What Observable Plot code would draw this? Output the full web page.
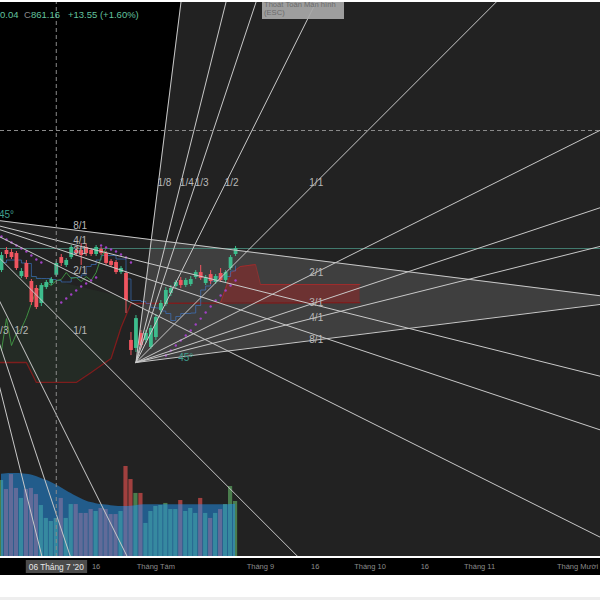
<!DOCTYPE html>
<html>
<head>
<meta charset="utf-8">
<script src="https://cdn.jsdelivr.net/npm/d3@7"></script>
<script src="https://cdn.jsdelivr.net/npm/@observablehq/plot@0.6"></script>
<style>
html,body{margin:0;padding:0;background:#fff;}
#wrap{position:relative;width:600px;height:600px;overflow:hidden;background:#fff;font-family:"Liberation Sans",Arial,sans-serif;}
.layer{position:absolute;left:0;width:600px;overflow:hidden;}
.layer svg{display:block;}
#topline{position:absolute;left:0;top:0;width:600px;height:2px;background:#fff;z-index:10;}
#footer{position:absolute;left:0;top:575px;width:600px;height:25px;background:#fff;}
#footer .strip{position:absolute;left:0;bottom:0;width:600px;height:3px;background:#eeeeee;}
#legend{position:absolute;top:9px;left:0;width:300px;height:14px;font-size:9.5px;line-height:12px;color:#62c29e;white-space:nowrap;z-index:5;}
#legend span{position:absolute;top:0;}
#tip{position:absolute;left:262px;top:0;width:82px;height:19px;background:rgba(168,168,168,0.93);color:#6b6b6b;font-size:7.6px;line-height:8.4px;z-index:6;}
#tip div{padding-left:2px;white-space:nowrap;}
</style>
</head>
<body>
<div id="wrap"></div>
<script>
// ---------- data (VN-Index daily candles, 19 Jun – 25 Aug 2020) ----------
const opens  = [855.2,872.2,870.5,869.6,850.1,861.2,845.9,840.0,827.3,840.8,844.2,851.2,866.2,859.5,866.2,872.2,872.2,874.7,872.2,868.8,873.0,869.6,862.9,862.0,853.5,852.7,796.0,789.2,801.9,796.0,790.0,798.5,821.3,826.4,835.8,841.7,846.8,842.5,843.4,849.3,853.5,844.2,851.8,845.1,852.7,846.8,856.9,868.8];
const highs  = [870.5,874.7,873.0,871.3,856.9,863.7,847.6,842.5,844.2,846.8,849.3,862.9,868.8,865.4,876.4,874.7,878.1,877.3,873.9,876.4,874.7,871.3,864.5,863.7,858.6,854.4,802.7,817.1,804.4,804.4,808.6,817.9,829.8,840.8,842.5,846.8,849.3,848.5,850.1,855.2,859.5,851.0,855.2,851.8,856.9,855.2,867.9,875.6];
const lows   = [853.5,865.4,864.5,855.2,848.5,847.6,825.6,822.2,824.7,839.1,842.5,850.04,858.6,857.8,864.5,867.1,859.5,867.1,867.1,867.1,867.9,859.5,857.8,851.8,851.8,818.8,783.2,785.8,789.2,793.4,788.3,796.0,817.9,824.7,833.2,840.0,840.0,840.8,841.7,847.6,846.8,842.5,843.4,843.4,845.1,845.1,855.2,867.1];
const closes = [867.9,868.8,866.2,856.9,854.4,849.3,828.1,823.9,842.5,845.1,847.61,861.16,861.2,863.7,874.7,869.6,867.9,869.6,868.8,874.7,869.6,861.2,859.5,853.5,856.9,829.8,787.5,814.5,791.7,801.9,806.1,815.4,827.3,838.3,840.0,845.1,842.5,846.8,847.6,853.5,848.5,849.3,845.9,850.1,846.8,853.5,866.2,873.87];
const volumes = [547,482,590,490,418,482,490,446,367,274,252,274,418,274,374,374,310,310,338,324,346,338,302,302,324,648,554,454,454,238,324,360,367,382,338,338,403,324,346,310,418,310,274,310,338,374,504,396];
const volumeMA = [592,596,598,598,596,592,586,576,562,548,532,514,494,474,454,434,416,400,388,380,374,370,366,362,360,360,362,366,370,372,372,372,372,372,372,372,372,372,372,372,372,372,372,372,372,372,374,376];

// Ichimoku (read) and Parabolic SAR (read)
const spanBIdx = [-1,5,6,7,15,18,22,24,25,26,72];
const spanBVal = [777.3,777.3,768.9,760.4,760.4,768.9,780.7,806.9,817.1,827.3,828.1];
const greenTop = [859,852,851,850,842,839,835,832,830.5,828.5];   // over spanBIdx[0..9]
const redIdx = [44,45,46,48,51,52,72];
const redTop = [828.1,840.0,852.7,858.6,860.3,843.4,843.4];
const redBottom = [828.1,828.1,828.1,828.1,828.1,828.1,828.1];
const sarIdx = [0,1,2,3,4,5,6,7,8,12,13,14,15,16,17,18,19,20,21,22,23,24,25,26,33,34,35,36,37,38,39,40,41,42,43,44,45,46,47];
const sarVal = [884.0,881.5,878.9,876.4,873.9,871.3,867.9,864.5,862.0,828.1,831.5,834.9,838.3,841.7,844.2,846.8,849.3,876.4,874.7,873.0,871.3,868.8,866.2,862.0,783.2,787.5,791.7,796.0,800.2,804.4,809.5,814.5,819.6,824.7,829.8,834.0,838.3,842.5,846.8];

// Gann fans: anchor bar index and price, direction, box size (bars), price per bar at 1/1
const fanIdx = [-9, 27];
const fanPrice = [902, 777.3];
const fanDir = [-1, 1];
const fanBox = [24, 36];
const fanScale = 4.22;
const ratios = [1/8, 1/4, 1/3, 1/2, 1, 2, 3, 4, 8];
const ratioLabels = ["8/1","4/1","3/1","2/1","1/1","1/2","1/3","1/4","1/8"];

// crosshair
const crossIdx = 11;
const crossPrice = 973.8;

// x-axis ticks (trading-day index)
const tickIdx = [11,19,31,52,63,74,85,96,117];
const tickLabels = ["06 Tháng 7 '20","16","Tháng Tám","Tháng 9","16","Tháng 10","16","Tháng 11","Tháng Mười Hai"];

// ---------- build ----------
const UP = "#3dbd8d", DN = "#f05560";
const xDomain = [-0.2, 120.28];
const yDomain = [613, 1083.92];
const candles = opens.map((o, i) => ({i, o, h: highs[i], l: lows[i], c: closes[i], v: volumes[i], ma: volumeMA[i], up: closes[i] >= o}));
const ups = candles.filter(d => d.up), dns = candles.filter(d => !d.up);

const tenkan = candles.map((d, i) => {
  const w = candles.slice(Math.max(0, i - 8), i + 1);
  return {i, p: (d3.max(w, e => e.h) + d3.min(w, e => e.l)) / 2};
});
const chikou = closes.slice(26).map((c, k) => ({i: k, p: c}));
const spanB = spanBIdx.map((i, k) => ({i, p: spanBVal[k]}));
const greenCloud = greenTop.map((t, k) => ({i: spanBIdx[k], a: t, b: spanBVal[k]}));
const redCloud = redIdx.map((i, k) => ({i, a: redTop[k], b: redBottom[k]}));
const sar = sarIdx.map((i, k) => ({i, p: sarVal[k]}));

const REACH = 400;
const wedges = [], fanLines = [], fanLabels = [];
fanIdx.forEach((i0, f) => {
  const p0 = fanPrice[f], dir = fanDir[f], N = fanBox[f];
  wedges.push({f, i: i0, a: p0, b: p0});
  wedges.push({f, i: i0 + REACH, a: p0 + dir * fanScale * ratios[0] * REACH, b: p0 + dir * fanScale * ratios[ratios.length - 1] * REACH});
  ratios.forEach((k, j) => {
    const key = f + "-" + j;
    fanLines.push({key, i: i0, p: p0});
    fanLines.push({key, i: i0 + REACH, p: p0 + dir * fanScale * k * REACH});
    const flat = k <= 1;
    const li = flat ? i0 + N : i0 + N / k;
    if (li < -1.5) return;              // label lies off the left edge
    fanLabels.push({f, flat, t: ratioLabels[j], i: li,
      p: flat ? p0 + dir * fanScale * k * N : p0 + dir * fanScale * N});
  });
});
const deg = fanIdx.map((i0, f) => ({f, i: i0 + 10, p: fanPrice[f]}));

const FONT = "Liberation Sans, Arial, sans-serif";
function frame(h, bg, marks, y) {
  return Plot.plot({
    width: 600, height: h, margin: 0,
    x: {domain: xDomain, axis: null},
    y: y ?? {domain: yDomain, axis: null},
    style: {background: bg, fontFamily: FONT, overflow: "hidden"},
    marks
  });
}

const mainSvg = frame(556, "#000", [
  Plot.areaY(wedges.filter(d => d.f === 0), {x: "i", y1: "a", y2: "b", fill: "#fff", fillOpacity: 0.135, clip: true}),
  Plot.areaY(wedges.filter(d => d.f === 1), {x: "i", y1: "a", y2: "b", fill: "#fff", fillOpacity: 0.135, clip: true}),
  Plot.areaY(greenCloud, {x: "i", y1: "a", y2: "b", fill: "#4caf50", fillOpacity: 0.07, clip: true}),
  Plot.areaY(redCloud, {x: "i", y1: "a", y2: "b", fill: "#b71c1c", fillOpacity: 0.38, clip: true}),
  Plot.line(redCloud, {x: "i", y: "a", stroke: "#c62828", strokeOpacity: 0.55, strokeWidth: 1, clip: true}),
  Plot.line(spanB, {x: "i", y: "p", stroke: "#7e1d1d", strokeWidth: 1.3, clip: true}),
  Plot.line(tenkan, {x: "i", y: "p", stroke: "#3f7fd8", strokeWidth: 0.9, strokeOpacity: 0.65, curve: "step-after", clip: true}),
  Plot.line(chikou, {x: "i", y: "p", stroke: "#43a047", strokeWidth: 1, strokeOpacity: 0.85, clip: true}),
  Plot.ruleY([closes[closes.length - 1]], {stroke: "#4e9a8a", strokeOpacity: 0.75}),
  Plot.dot(sar, {x: "i", y: "p", r: 1.2, fill: "#a040c4", stroke: "none", clip: true}),
  Plot.ruleX(ups, {x: "i", y1: "l", y2: "h", stroke: UP, strokeWidth: 1}),
  Plot.ruleX(dns, {x: "i", y1: "l", y2: "h", stroke: DN, strokeWidth: 1}),
  Plot.ruleX(ups, {x: "i", y1: "o", y2: "c", stroke: UP, strokeWidth: 3.8}),
  Plot.ruleX(dns, {x: "i", y1: "o", y2: "c", stroke: DN, strokeWidth: 3.8})
]);

const volSvg = frame(126, "transparent", [
  Plot.rect(ups, {x1: d => d.i - 0.42, x2: d => d.i + 0.42, y1: 0, y2: "v", fill: "#66bb6a", fillOpacity: 0.6}),
  Plot.rect(dns, {x1: d => d.i - 0.42, x2: d => d.i + 0.42, y1: 0, y2: "v", fill: "#ef5350", fillOpacity: 0.62}),
  Plot.areaY(candles, {x: "i", y: "ma", fill: "#2196f3", fillOpacity: 0.5, curve: "monotone-x"})
], {domain: [0, 907], axis: null});

const fanSvg = frame(556, "transparent", [
  Plot.line(fanLines, {x: "i", y: "p", z: "key", stroke: "#c9c9c9", strokeWidth: 1, clip: true}),
  Plot.ruleX([crossIdx], {stroke: "#8a8a8a", strokeDasharray: "4,3"}),
  Plot.ruleY([crossPrice], {stroke: "#8a8a8a", strokeDasharray: "4,3"}),
  Plot.text(fanLabels.filter(d => d.f === 0 && d.flat), {x: "i", y: "p", text: "t", dx: 4, dy: -4, fill: "#b8b8b8", fontSize: 10}),
  Plot.text(fanLabels.filter(d => d.f === 0 && !d.flat), {x: "i", y: "p", text: "t", dx: 5, dy: -4, fill: "#b8b8b8", fontSize: 10}),
  Plot.text(fanLabels.filter(d => d.f === 1 && d.flat), {x: "i", y: "p", text: "t", dx: 1, dy: 0, fill: "#b8b8b8", fontSize: 10}),
  Plot.text(fanLabels.filter(d => d.f === 1 && !d.flat), {x: "i", y: "p", text: "t", dx: 6, dy: 0, fill: "#b8b8b8", fontSize: 10}),
  Plot.text(deg.filter(d => d.f === 0), {x: "i", y: "p", text: () => "45°", dy: 0, fill: "#3f9f8f", fontSize: 10}),
  Plot.text(deg.filter(d => d.f === 1), {x: "i", y: "p", text: () => "45°", dy: -5, fill: "#3f9f8f", fontSize: 10})
]);

const ticks = tickIdx.map((i, k) => ({i, t: tickLabels[k]}));
const axisSvg = Plot.plot({
  width: 600, height: 17, margin: 0,
  x: {domain: xDomain, axis: null},
  style: {background: "#000", fontFamily: FONT, overflow: "hidden"},
  marks: [
    Plot.text(ticks.slice(1), {x: "i", text: "t", fill: "#8c8c8c", fontSize: 7.5}),
    Plot.text(ticks.slice(0, 1), {x: "i", text: "t", fill: "#e8e8e8", fontSize: 8.3})
  ]
});

// ---------- assemble ----------
const wrapEl = document.getElementById("wrap");
function addLayer(el, y0, h) {
  const d = document.createElement("div");
  d.className = "layer"; d.style.top = y0 + "px"; d.style.height = h + "px";
  d.appendChild(el); wrapEl.appendChild(d); return d;
}
addLayer(mainSvg, 0, 556);
addLayer(volSvg, 430, 126);
addLayer(fanSvg, 0, 556);
addLayer(axisSvg, 558, 17);

// crosshair date box behind its label
const crossLab = [...axisSvg.querySelectorAll("text")].find(e => e.textContent === tickLabels[0]);
if (crossLab) {
  const sb = axisSvg.getBoundingClientRect(), tb = crossLab.getBoundingClientRect();
  const r = document.createElementNS("http://www.w3.org/2000/svg", "rect");
  r.setAttribute("x", tb.left - sb.left - 3);
  r.setAttribute("y", 2);
  r.setAttribute("width", tb.width + 6);
  r.setAttribute("height", 13);
  r.setAttribute("fill", "#4b4b4b");
  const g = crossLab.closest("g") || crossLab;
  g.parentNode.insertBefore(r, g);
}

const footerEl = document.createElement("div");
footerEl.id = "footer"; footerEl.innerHTML = '<div class="strip"></div>';
wrapEl.appendChild(footerEl);
const topLineEl = document.createElement("div"); topLineEl.id = "topline"; wrapEl.appendChild(topLineEl);

const legendEl = document.createElement("div");
legendEl.id = "legend";
legendEl.innerHTML = '<span style="left:0">0.04</span><span style="left:24px;color:#8a8a8a">C</span><span style="left:31px">861.16</span><span style="left:68px">+13.55 (+1.60%)</span>';
wrapEl.appendChild(legendEl);

const tipEl = document.createElement("div");
tipEl.id = "tip";
tipEl.innerHTML = '<div style="padding-top:1px">Thoát Toàn Màn hình</div><div>(ESC)</div>';
wrapEl.appendChild(tipEl);
</script>
</body>
</html>
